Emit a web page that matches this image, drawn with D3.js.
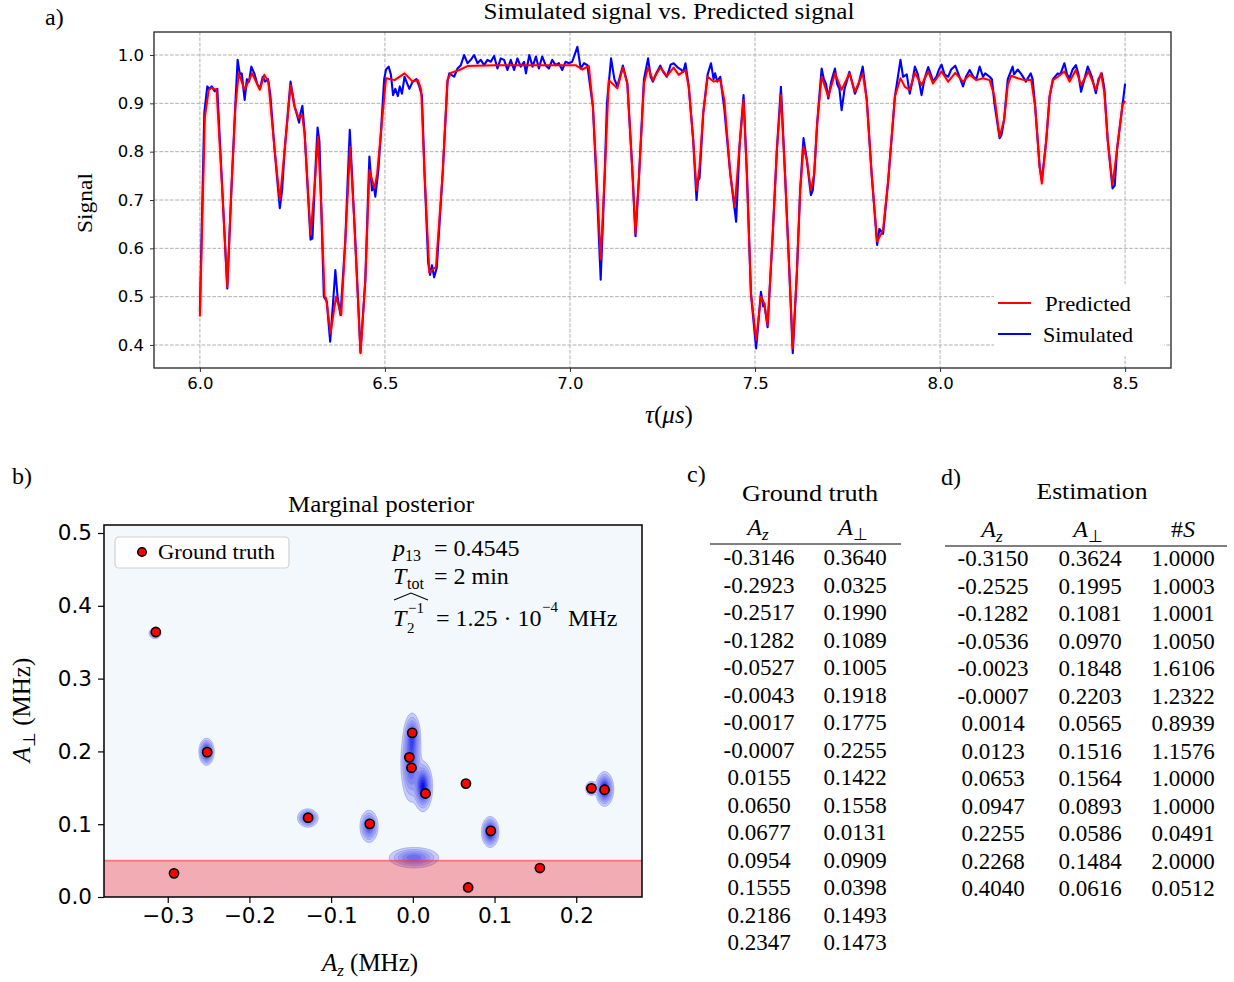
<!DOCTYPE html>
<html><head><meta charset="utf-8">
<script src="https://cdn.jsdelivr.net/npm/d3@7"></script>
<style>
body{margin:0;background:#fff;}
svg text{font-family:"Liberation Serif","Times New Roman",serif;fill:#000;}
.tick text{font-family:"DejaVu Sans",sans-serif;}
</style></head><body>
<svg id="c" width="1234" height="982"></svg>
<script>
// ---------------- DATA ----------------
// panel a) : tau (us), signal
const predicted = [[6.000,0.459],[6.0135,0.872],[6.024,0.928],[6.031,0.932],[6.045,0.928],[6.058,0.755],[6.074,0.520],[6.085,0.720],[6.096,0.893],[6.105,0.962],[6.121,0.928],[6.141,0.962],[6.162,0.928],[6.174,0.959],[6.185,0.945],[6.202,0.803],[6.216,0.700],[6.229,0.803],[6.245,0.938],[6.256,0.893],[6.267,0.869],[6.276,0.876],[6.283,0.838],[6.299,0.628],[6.310,0.728],[6.319,0.831],[6.328,0.686],[6.337,0.500],[6.341,0.497],[6.353,0.424],[6.368,0.500],[6.382,0.462],[6.393,0.617],[6.406,0.810],[6.418,0.645],[6.434,0.383],[6.447,0.534],[6.458,0.762],[6.472,0.724],[6.479,0.755],[6.490,0.845],[6.503,0.952],[6.526,0.948],[6.553,0.962],[6.575,0.945],[6.589,0.948],[6.598,0.928],[6.607,0.755],[6.620,0.550],[6.638,0.562],[6.656,0.755],[6.669,0.948],[6.678,0.963],[6.701,0.969],[6.723,0.977],[6.800,0.979],[6.890,0.979],[7.015,0.979],[7.033,0.970],[7.051,0.977],[7.062,0.893],[7.074,0.720],[7.083,0.577],[7.094,0.755],[7.105,0.948],[7.128,0.931],[7.143,0.974],[7.155,0.941],[7.168,0.769],[7.177,0.631],[7.186,0.741],[7.200,0.941],[7.211,0.974],[7.224,0.948],[7.244,0.974],[7.262,0.957],[7.280,0.974],[7.294,0.959],[7.312,0.969],[7.321,0.934],[7.333,0.824],[7.342,0.720],[7.350,0.769],[7.360,0.879],[7.372,0.955],[7.388,0.945],[7.406,0.948],[7.417,0.907],[7.433,0.755],[7.445,0.686],[7.458,0.810],[7.469,0.907],[7.478,0.755],[7.489,0.507],[7.503,0.410],[7.516,0.500],[7.525,0.486],[7.534,0.441],[7.548,0.631],[7.559,0.803],[7.570,0.917],[7.581,0.755],[7.593,0.548],[7.602,0.393],[7.613,0.548],[7.622,0.720],[7.631,0.810],[7.640,0.783],[7.651,0.720],[7.660,0.755],[7.668,0.859],[7.680,0.955],[7.698,0.914],[7.716,0.962],[7.734,0.928],[7.755,0.962],[7.770,0.924],[7.791,0.962],[7.802,0.907],[7.815,0.755],[7.830,0.614],[7.846,0.638],[7.860,0.741],[7.878,0.914],[7.893,0.952],[7.905,0.934],[7.918,0.928],[7.932,0.963],[7.950,0.938],[7.968,0.966],[7.981,0.941],[8.004,0.966],[8.022,0.945],[8.041,0.963],[8.062,0.945],[8.080,0.959],[8.098,0.948],[8.116,0.952],[8.134,0.948],[8.147,0.914],[8.161,0.831],[8.173,0.866],[8.183,0.938],[8.192,0.957],[8.210,0.952],[8.228,0.948],[8.246,0.949],[8.257,0.893],[8.269,0.769],[8.275,0.734],[8.287,0.824],[8.296,0.914],[8.305,0.948],[8.318,0.955],[8.336,0.966],[8.350,0.945],[8.367,0.969],[8.381,0.938],[8.401,0.966],[8.421,0.928],[8.435,0.962],[8.444,0.921],[8.453,0.824],[8.466,0.731],[8.478,0.803],[8.493,0.897],[8.500,0.905]];

const simulated = [[6.000,0.469],[6.012,0.880],[6.020,0.935],[6.026,0.930],[6.032,0.935],[6.040,0.925],[6.047,0.930],[6.058,0.760],[6.074,0.517],[6.085,0.720],[6.096,0.900],[6.102,0.990],[6.108,0.960],[6.113,0.962],[6.121,0.907],[6.127,0.950],[6.133,0.945],[6.139,0.976],[6.147,0.962],[6.155,0.940],[6.162,0.930],[6.170,0.955],[6.176,0.945],[6.184,0.950],[6.190,0.920],[6.202,0.803],[6.216,0.683],[6.222,0.720],[6.229,0.803],[6.245,0.945],[6.256,0.893],[6.263,0.875],[6.268,0.860],[6.272,0.880],[6.277,0.895],[6.283,0.838],[6.299,0.618],[6.304,0.620],[6.310,0.728],[6.318,0.850],[6.323,0.820],[6.328,0.686],[6.335,0.500],[6.343,0.490],[6.352,0.407],[6.360,0.490],[6.366,0.555],[6.372,0.500],[6.380,0.462],[6.393,0.617],[6.405,0.845],[6.418,0.645],[6.434,0.385],[6.447,0.534],[6.458,0.790],[6.465,0.720],[6.470,0.730],[6.474,0.707],[6.482,0.760],[6.490,0.850],[6.498,0.950],[6.503,0.970],[6.510,0.976],[6.516,0.960],[6.522,0.917],[6.528,0.930],[6.535,0.915],[6.540,0.935],[6.546,0.920],[6.553,0.955],[6.558,0.945],[6.566,0.930],[6.575,0.945],[6.585,0.950],[6.593,0.935],[6.600,0.915],[6.607,0.755],[6.617,0.570],[6.622,0.545],[6.627,0.565],[6.633,0.540],[6.640,0.560],[6.656,0.755],[6.669,0.945],[6.674,0.962],[6.687,0.955],[6.696,0.972],[6.705,0.979],[6.714,1.000],[6.723,0.983],[6.732,0.990],[6.741,1.000],[6.750,0.983],[6.759,0.990],[6.768,0.979],[6.777,0.990],[6.786,0.986],[6.795,0.998],[6.804,0.972],[6.813,0.993],[6.822,0.990],[6.831,0.969],[6.840,0.990],[6.849,0.969],[6.858,0.993],[6.867,0.976],[6.876,0.986],[6.881,0.962],[6.890,1.000],[6.899,0.976],[6.908,0.997],[6.916,0.972],[6.925,0.997],[6.934,0.979],[6.943,0.972],[6.952,0.990],[6.961,0.979],[6.970,0.983],[6.979,0.969],[6.988,0.986],[6.997,0.983],[7.006,0.986],[7.020,1.017],[7.029,0.972],[7.038,0.983],[7.047,0.979],[7.062,0.893],[7.074,0.700],[7.083,0.535],[7.094,0.755],[7.100,0.900],[7.111,0.993],[7.120,0.950],[7.128,0.935],[7.143,0.978],[7.155,0.941],[7.168,0.769],[7.177,0.625],[7.186,0.741],[7.200,0.950],[7.211,0.993],[7.218,0.955],[7.224,0.945],[7.232,0.960],[7.244,0.978],[7.252,0.965],[7.262,0.955],[7.272,0.980],[7.280,0.983],[7.290,0.975],[7.300,0.970],[7.306,0.965],[7.312,0.983],[7.321,0.934],[7.333,0.824],[7.342,0.700],[7.346,0.740],[7.350,0.745],[7.360,0.879],[7.372,0.960],[7.381,0.983],[7.388,0.950],[7.392,0.962],[7.398,0.945],[7.406,0.955],[7.417,0.890],[7.433,0.755],[7.449,0.655],[7.458,0.810],[7.469,0.917],[7.478,0.755],[7.489,0.507],[7.503,0.393],[7.516,0.510],[7.522,0.480],[7.525,0.486],[7.534,0.437],[7.548,0.631],[7.559,0.803],[7.570,0.934],[7.581,0.755],[7.593,0.548],[7.602,0.383],[7.613,0.548],[7.622,0.720],[7.631,0.828],[7.640,0.783],[7.651,0.710],[7.656,0.720],[7.660,0.755],[7.668,0.859],[7.680,0.972],[7.686,0.950],[7.692,0.940],[7.698,0.910],[7.706,0.945],[7.716,0.972],[7.722,0.940],[7.728,0.930],[7.734,0.886],[7.742,0.930],[7.755,0.965],[7.762,0.945],[7.770,0.920],[7.780,0.940],[7.791,0.976],[7.802,0.907],[7.815,0.755],[7.830,0.607],[7.836,0.640],[7.846,0.630],[7.860,0.741],[7.878,0.914],[7.893,0.990],[7.900,0.955],[7.910,0.960],[7.918,0.920],[7.925,0.945],[7.932,0.976],[7.940,0.960],[7.950,0.917],[7.958,0.950],[7.968,0.975],[7.975,0.960],[7.981,0.945],[7.990,0.955],[7.997,0.970],[8.004,0.980],[8.012,0.960],[8.022,0.955],[8.030,0.970],[8.041,0.978],[8.050,0.960],[8.062,0.935],[8.070,0.955],[8.080,0.969],[8.090,0.955],[8.098,0.950],[8.107,0.976],[8.116,0.955],[8.122,0.962],[8.134,0.955],[8.140,0.950],[8.147,0.900],[8.161,0.828],[8.166,0.835],[8.173,0.866],[8.183,0.950],[8.196,0.976],[8.200,0.960],[8.210,0.970],[8.220,0.960],[8.232,0.945],[8.245,0.962],[8.250,0.950],[8.257,0.893],[8.269,0.769],[8.275,0.740],[8.287,0.824],[8.296,0.914],[8.305,0.950],[8.318,0.962],[8.325,0.960],[8.336,0.983],[8.343,0.960],[8.350,0.952],[8.358,0.970],[8.367,0.979],[8.374,0.960],[8.381,0.924],[8.390,0.950],[8.399,0.976],[8.410,0.955],[8.421,0.921],[8.428,0.950],[8.437,0.962],[8.444,0.930],[8.453,0.824],[8.466,0.724],[8.472,0.730],[8.478,0.803],[8.493,0.897],[8.500,0.941]];

const tauTicks = [6.0, 6.5, 7.0, 7.5, 8.0, 8.5];
const signalTicks = [0.4, 0.5, 0.6, 0.7, 0.8, 0.9, 1.0];

// panel c) ground truth
const gtAz   = [-0.3146,-0.2923,-0.2517,-0.1282,-0.0527,-0.0043,-0.0017,-0.0007,0.0155,0.0650,0.0677,0.0954,0.1555,0.2186,0.2347];
const gtAperp= [0.3640,0.0325,0.1990,0.1089,0.1005,0.1918,0.1775,0.2255,0.1422,0.1558,0.0131,0.0909,0.0398,0.1493,0.1473];
// panel d) estimation
const estAz   = [-0.3150,-0.2525,-0.1282,-0.0536,-0.0023,-0.0007,0.0014,0.0123,0.0653,0.0947,0.2255,0.2268,0.4040];
const estAperp= [0.3624,0.1995,0.1081,0.0970,0.1848,0.2203,0.0565,0.1516,0.1564,0.0893,0.0586,0.1484,0.0616];
const estS    = [1.0000,1.0003,1.0001,1.0050,1.6106,1.2322,0.8939,1.1576,1.0000,1.0000,0.0491,2.0000,0.0512];

// panel b) posterior blobs: centre Az, centre Aperp, spread Az, spread Aperp, peak
const blobAz    = [-0.3155,-0.2525,-0.1285,-0.0536,-0.0023,-0.0007,0.0014,0.0123,0.0947,0.2186,0.2347];
const blobAperp = [0.3622,0.1995,0.1085,0.0970,0.1848,0.2203,0.0540,0.1516,0.0893,0.1493,0.1484];
const blobSdz   = [0.0030,0.0035,0.0050,0.0045,0.0050,0.0040,0.0130,0.0045,0.0040,0.0030,0.0042];
const blobSdp   = [0.0030,0.0070,0.0050,0.0090,0.0220,0.0130,0.0060,0.0130,0.0080,0.0040,0.0090];
const blobPeak  = [0.55,1.0,0.7,0.6,0.6,0.55,0.45,1.0,1.0,0.5,1.0];

const azTicks = [-0.3,-0.2,-0.1,0.0,0.1,0.2];
const aperpTicks = [0.0,0.1,0.2,0.3,0.4,0.5];
const band = 0.05;

// ---------------- DRAW ----------------
const svg = d3.select("#c");

function txt(x,y,s,size,opt={}){
  const t = svg.append("text").attr("x",x).attr("y",y).attr("font-size",size).text(s);
  if(opt.anchor) t.attr("text-anchor",opt.anchor);
  if(opt.italic) t.attr("font-style","italic");
  if(opt.len) t.attr("textLength",opt.len).attr("lengthAdjust","spacingAndGlyphs");
  if(opt.rot) t.attr("transform",`rotate(${opt.rot},${x},${y})`);
  return t;
}

// ===== Panel a =====
const aL=154,aR=1171,aT=32,aB=368;
const xA = d3.scaleLinear().domain([5.876,8.624]).range([aL,aR]);
const yA = d3.scaleLinear().domain([0.3524,1.0476]).range([aB,aT]);
const gA = svg.append("g");
gA.append("clipPath").attr("id","clipA").append("rect").attr("x",aL).attr("y",aT).attr("width",aR-aL).attr("height",aB-aT);
// grid
gA.selectAll(".gx").data(tauTicks).join("line").attr("x1",d=>xA(d)).attr("x2",d=>xA(d)).attr("y1",aT).attr("y2",aB)
  .attr("stroke","#b0b0b0").attr("stroke-width",1).attr("stroke-dasharray","3.7,1.6");
gA.selectAll(".gy").data(signalTicks).join("line").attr("y1",d=>yA(d)).attr("y2",d=>yA(d)).attr("x1",aL).attr("x2",aR)
  .attr("stroke","#b0b0b0").attr("stroke-width",1).attr("stroke-dasharray","3.7,1.6");

const lineA = d3.line().x(d=>xA(d[0])).y(d=>yA(d[1]));
const curves = gA.append("g").attr("clip-path","url(#clipA)");
curves.append("path").datum(predicted).attr("d",lineA).attr("fill","none").attr("stroke","rgba(255,80,80,0.13)").attr("stroke-width",6).attr("stroke-linejoin","round");
curves.append("path").datum(simulated).attr("d",lineA).attr("fill","none").attr("stroke","#0000ff").attr("stroke-width",2.1).attr("stroke-linejoin","round");
curves.append("path").datum(predicted).attr("d",lineA).attr("fill","none").attr("stroke","#ff0000").attr("stroke-width",2).attr("stroke-linejoin","round");

// legend a
gA.append("rect").attr("x",994).attr("y",284).attr("width",170).attr("height",72).attr("fill","#fff").attr("stroke","none");
gA.append("line").attr("x1",998).attr("x2",1031).attr("y1",303).attr("y2",303).attr("stroke","#ff0000").attr("stroke-width",2.2);
gA.append("line").attr("x1",998).attr("x2",1031).attr("y1",334).attr("y2",334).attr("stroke","#0000ff").attr("stroke-width",2.2);
txt(1045,311,"Predicted",21,{len:86});
txt(1043,342,"Simulated",21,{len:90});

// frame
gA.append("rect").attr("x",aL).attr("y",aT).attr("width",aR-aL).attr("height",aB-aT).attr("fill","none").attr("stroke","#333").attr("stroke-width",1.4);
// axes
const axA = gA.append("g").attr("transform",`translate(0,${aB})`).call(d3.axisBottom(xA).tickValues(tauTicks).tickFormat(d3.format(".1f")).tickSize(4).tickPadding(5));
const ayA = gA.append("g").attr("transform",`translate(${aL},0)`).call(d3.axisLeft(yA).tickValues(signalTicks).tickFormat(d3.format(".1f")).tickSize(4).tickPadding(6));
[axA,ayA].forEach(a=>{a.select(".domain").remove(); a.selectAll(".tick line").attr("stroke","#333"); a.selectAll(".tick text").attr("font-size",16.5).attr("fill","#000");});

txt(669,19,"Simulated signal vs. Predicted signal",23,{anchor:"middle",len:371});
txt(45,25,"a)",24);
txt(92,203,"Signal",22,{anchor:"middle",rot:-90,len:60});
{ const t = svg.append("text").attr("x",669).attr("y",423).attr("font-size",25).attr("text-anchor","middle");
  t.append("tspan").attr("font-style","italic").text("τ");
  t.append("tspan").text("(");
  t.append("tspan").attr("font-style","italic").text("μs");
  t.append("tspan").text(")"); }

// ===== Panel b =====
const bL=104,bR=642,bT=525,bB=897;
const xB = d3.scaleLinear().domain([-0.378,0.2805]).range([bL,bR]);
const yB = d3.scaleLinear().domain([0,0.511]).range([bB,bT]);
const gB = svg.append("g");
gB.append("clipPath").attr("id","clipB").append("rect").attr("x",bL).attr("y",bT).attr("width",bR-bL).attr("height",bB-bT);
gB.append("rect").attr("x",bL).attr("y",bT).attr("width",bR-bL).attr("height",bB-bT).attr("fill","#f3f8fd");

// density grid from blobs -> d3.contours
const W=bR-bL, H=bB-bT;
const vals = new Float64Array(W*H);
for(let j=0;j<H;j++){
  const ap = yB.invert(bT+j+0.5);
  for(let i=0;i<W;i++){
    const az = xB.invert(bL+i+0.5);
    let s=0;
    for(let k=0;k<blobAz.length;k++){
      const dx=(az-blobAz[k])/blobSdz[k], dy=(ap-blobAperp[k])/blobSdp[k];
      const e=0.5*(dx*dx+dy*dy);
      if(e<25) s+=blobPeak[k]*Math.exp(-e);
    }
    vals[j*W+i]=s;
  }
}
const levels=[0.03,0.08,0.15,0.24,0.35,0.48,0.62,0.78,0.92];
const cont = d3.contours().size([W,H]).thresholds(levels)(vals);
const colC = d3.scaleLinear().domain([0,levels.length-1]).range(["#c8cdf7","#0b12e8"]).interpolate(d3.interpolateRgb);
const gC = gB.append("g").attr("clip-path","url(#clipB)").append("g").attr("transform",`translate(${bL},${bT})`);
gC.selectAll("path").data(cont).join("path").attr("d",d3.geoPath())
  .attr("fill",(d,i)=>colC(i)).attr("stroke",(d,i)=>i<4?"#8088ee":"none").attr("stroke-width",0.6);

// red excluded band
gB.append("rect").attr("x",bL).attr("y",yB(band)).attr("width",bR-bL).attr("height",bB-yB(band)).attr("fill","rgba(238,20,30,0.33)");
gB.append("line").attr("x1",bL).attr("x2",bR).attr("y1",yB(band)).attr("y2",yB(band)).attr("stroke","rgba(240,60,60,0.6)").attr("stroke-width",1.6);

// ground truth markers
gB.selectAll("circle.gt").data(gtAz.map((d,i)=>[d,gtAperp[i]])).join("circle")
  .attr("cx",d=>xB(d[0])).attr("cy",d=>yB(d[1])).attr("r",4.6).attr("fill","#ff0000").attr("stroke","#000").attr("stroke-width",1.6);

// frame & axes
gB.append("rect").attr("x",bL).attr("y",bT).attr("width",W).attr("height",H).attr("fill","none").attr("stroke","#000").attr("stroke-width",1.5);
const axB = gB.append("g").attr("transform",`translate(0,${bB})`).call(d3.axisBottom(xB).tickValues(azTicks).tickFormat(d3.format(".1f")).tickSize(6).tickPadding(5));
const ayB = gB.append("g").attr("transform",`translate(${bL},0)`).call(d3.axisLeft(yB).tickValues(aperpTicks).tickFormat(d3.format(".1f")).tickSize(6).tickPadding(6));
[axB,ayB].forEach(a=>{a.select(".domain").remove(); a.selectAll(".tick line").attr("stroke","#000").attr("stroke-width",1.2); a.selectAll(".tick text").attr("font-size",21.5).attr("fill","#000");});

// legend b
gB.append("rect").attr("x",115).attr("y",537).attr("width",174).attr("height",31).attr("rx",4).attr("fill","rgba(255,255,255,0.85)").attr("stroke","#d0d0d0").attr("stroke-width",1.2);
gB.append("circle").attr("cx",142).attr("cy",552).attr("r",4.3).attr("fill","#ff0000").attr("stroke","#000").attr("stroke-width",1.5);
txt(158,559,"Ground truth",20,{len:117});

txt(381,512,"Marginal posterior",23,{anchor:"middle",len:186});
txt(12,484,"b)",24);

// annotations
txt(393,556,"p",24,{italic:true});
txt(405,561,"13",16);
txt(434,556,"= 0.4545",24);
txt(393,584,"T",24,{italic:true});
txt(407,589,"tot",16);
txt(434,584,"= 2 min",24);
txt(393,626,"T",24,{italic:true});
txt(408,613,"−1",15);
txt(407,633,"2",15);
svg.append("path").attr("d","M394,600 L411,593 L428,600").attr("fill","none").attr("stroke","#000").attr("stroke-width",1.1);
txt(436,626,"= 1.25 · 10",24);
txt(542,612,"−4",15);
txt(568,626,"MHz",24);

// axis labels b
{ const t = svg.append("text").attr("x",370).attr("y",971).attr("font-size",25).attr("text-anchor","middle");
  t.append("tspan").attr("font-style","italic").text("A");
  t.append("tspan").attr("font-style","italic").attr("font-size",17).attr("dy",5).text("z");
  t.append("tspan").attr("dy",-5).text(" (MHz)"); }
{ const t = svg.append("text").attr("x",30).attr("y",710).attr("font-size",25).attr("text-anchor","middle").attr("transform","rotate(-90,30,710)");
  t.append("tspan").attr("font-style","italic").text("A");
  t.append("tspan").attr("font-size",17).attr("dy",5).text("⊥");
  t.append("tspan").attr("dy",-5).text(" (MHz)"); }

// ===== Tables =====
function header(x,y,main,sub,italicSub){
  const t = svg.append("text").attr("x",x).attr("y",y).attr("font-size",24).attr("text-anchor","middle");
  t.append("tspan").attr("font-style","italic").text(main);
  if(sub){ const s=t.append("tspan").attr("font-size",17).attr("dy",5).text(sub); if(italicSub) s.attr("font-style","italic"); }
}
const fmt4 = d3.format(".4f");
const fmtNum = v => (v<0?"-":"")+fmt4(Math.abs(v));
// c)
txt(687,482,"c)",24);
txt(810,501,"Ground truth",23,{anchor:"middle",len:136});
header(758,535,"A","z",true);
header(853,535,"A","⊥",false);
svg.append("line").attr("x1",710).attr("x2",901).attr("y1",544).attr("y2",544).attr("stroke","#000").attr("stroke-width",1);
gtAz.forEach((v,i)=>{
  const y = 565 + i*27.5;
  txt(759,y,fmtNum(v),23,{anchor:"middle"});
  txt(855,y,fmtNum(gtAperp[i]),23,{anchor:"middle"});
});
// d)
txt(941,485,"d)",24);
txt(1092,499,"Estimation",23,{anchor:"middle",len:111});
header(992,537,"A","z",true);
header(1088,537,"A","⊥",false);
{ const t = svg.append("text").attr("x",1183).attr("y",537).attr("font-size",24).attr("text-anchor","middle");
  t.append("tspan").text("#"); t.append("tspan").attr("font-style","italic").text("S"); }
svg.append("line").attr("x1",945).attr("x2",1227).attr("y1",546).attr("y2",546).attr("stroke","#000").attr("stroke-width",1);
estAz.forEach((v,i)=>{
  const y = 566 + i*27.5;
  txt(993,y,fmtNum(v),23,{anchor:"middle"});
  txt(1090,y,fmtNum(estAperp[i]),23,{anchor:"middle"});
  txt(1183,y,fmtNum(estS[i]),23,{anchor:"middle"});
});
</script>
</body></html>
